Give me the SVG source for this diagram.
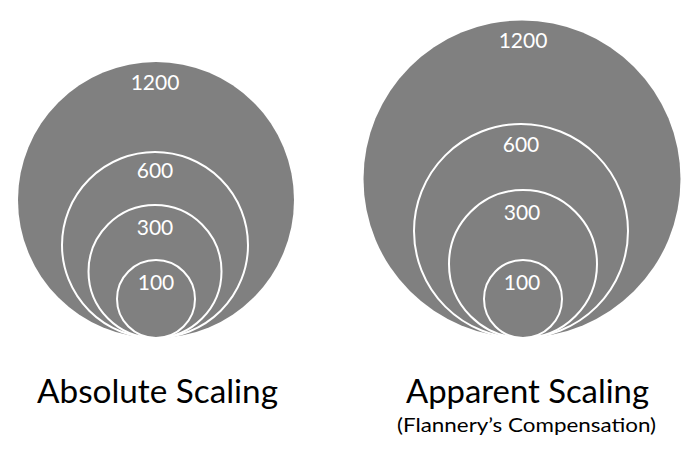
<svg xmlns="http://www.w3.org/2000/svg" width="686" height="452" viewBox="0 0 686 452">
<style>
.outer{fill:#808080;stroke:none}
.inner{fill:#808080;stroke:#ffffff;stroke-width:2}
.num{font-family:Lato,"Open Sans","Liberation Sans",sans-serif;font-size:21px;fill:#ffffff;text-anchor:middle}
.title{font-family:Lato,"Open Sans","Liberation Sans",sans-serif;font-size:32px;fill:#000000;text-anchor:middle}
.sub{font-family:Lato,"Open Sans","Liberation Sans",sans-serif;font-size:19px;fill:#000000;text-anchor:middle}
</style>
<rect width="686" height="452" fill="#ffffff"/>
<g id="absolute">
  <g id="abs-1200"><circle class="outer" cx="156" cy="200" r="138"/><text class="num" x="155" y="90">1200</text></g>
  <g id="abs-600"><circle class="inner" cx="155" cy="245" r="93"/><text class="num" x="155" y="178">600</text></g>
  <g id="abs-300"><circle class="inner" cx="155" cy="271.5" r="66.5"/><text class="num" x="155" y="235">300</text></g>
  <g id="abs-100"><circle class="inner" cx="156" cy="299" r="39"/><text class="num" x="156" y="290">100</text></g>
  <text id="abs-title" class="title" x="157.5" y="403" textLength="241" lengthAdjust="spacingAndGlyphs">Absolute Scaling</text>
</g>
<g id="apparent">
  <g id="app-1200"><circle class="outer" cx="522" cy="179" r="158.5"/><text class="num" x="523" y="48">1200</text></g>
  <g id="app-600"><circle class="inner" cx="521" cy="231" r="107"/><text class="num" x="521" y="152">600</text></g>
  <g id="app-300"><circle class="inner" cx="523" cy="264" r="74"/><text class="num" x="522" y="220">300</text></g>
  <g id="app-100"><circle class="inner" cx="523" cy="299" r="39"/><text class="num" x="522" y="290">100</text></g>
  <text id="app-title" class="title" x="527.5" y="403" textLength="243" lengthAdjust="spacingAndGlyphs">Apparent Scaling</text>
  <text id="app-sub" class="sub" x="526.5" y="432" textLength="259" lengthAdjust="spacingAndGlyphs">(Flannery’s Compensation)</text>
</g>
</svg>
